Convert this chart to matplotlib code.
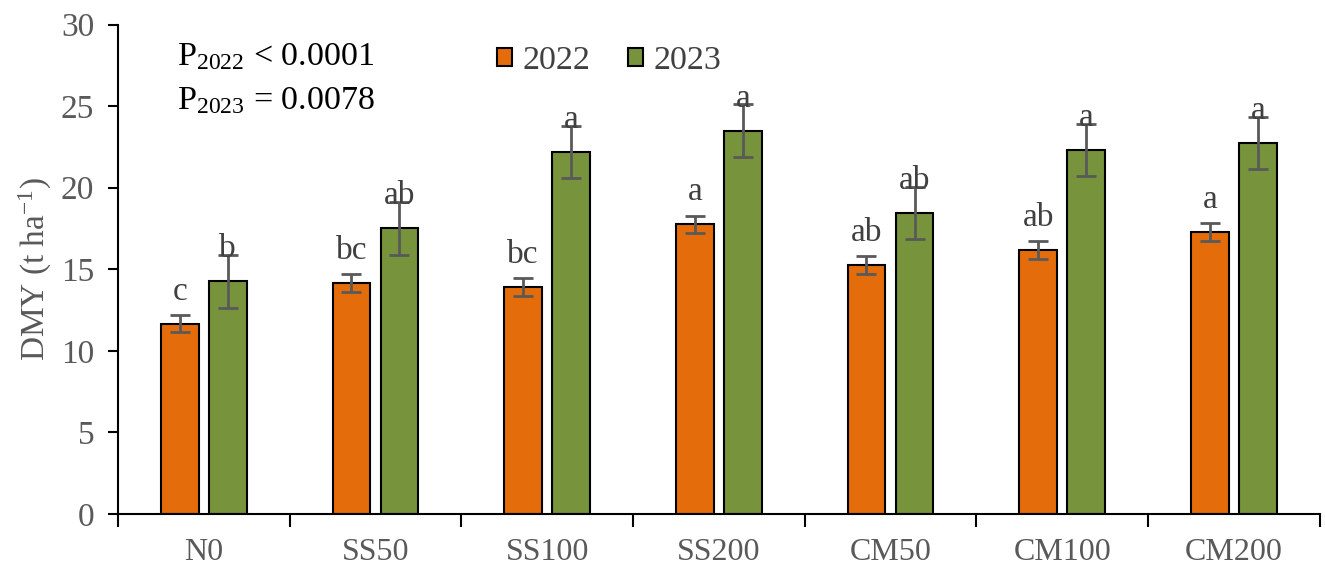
import numpy as np
import matplotlib
matplotlib.use("Agg")
import matplotlib.pyplot as plt
from matplotlib.ticker import FixedLocator

plt.rcParams['font.family'] = ['Liberation Serif', 'DejaVu Serif']
plt.rcParams['mathtext.fontset'] = 'custom'
plt.rcParams['mathtext.rm'] = 'Liberation Serif'
plt.rcParams['mathtext.it'] = 'Liberation Serif:italic'

# dry matter yield by treatment
treatments = ['N0', 'SS50', 'SS100', 'SS200', 'CM50', 'CM100', 'CM200']
dmy_2022 = [11.65, 14.15, 13.9, 17.75, 15.25, 16.2, 17.27]
err_2022 = [0.52, 0.55, 0.55, 0.53, 0.55, 0.55, 0.55]
dmy_2023 = [14.25, 17.5, 22.2, 23.5, 18.45, 22.3, 22.76]
err_2023 = [1.6, 1.6, 1.58, 1.63, 1.6, 1.6, 1.6]
letters_2022 = ['c', 'bc', 'bc', 'a', 'ab', 'ab', 'a']
letters_2023 = ['b', 'ab', 'a', 'a', 'ab', 'a', 'a']

c22 = '#E46C0A'
c23 = '#77933C'
grey = '#595959'

fig = plt.figure(figsize=(13.25, 5.71), dpi=100)
ax = fig.add_axes([0.089, 0.1, 0.907, 0.857])

x = np.arange(len(treatments))
w = 0.22
off = 0.14
ekw = dict(ecolor=grey, elinewidth=2, capsize=7, capthick=2)
ax.bar(x - off, dmy_2022, w, yerr=err_2022, color=c22, edgecolor='black',
       linewidth=1.5, error_kw=ekw, label='2022', zorder=2)
ax.bar(x + off, dmy_2023, w, yerr=err_2023, color=c23, edgecolor='black',
       linewidth=1.5, error_kw=ekw, label='2023', zorder=2)

for i in range(len(treatments)):
    ax.text(x[i] - off, dmy_2022[i] + 1.47, letters_2022[i], ha='center',
            va='baseline', fontsize=24, color='#404040', zorder=3)
    ax.text(x[i] + off, dmy_2023[i] + 1.47, letters_2023[i], ha='center',
            va='baseline', fontsize=24, color='#404040', zorder=3)

ax.set_xlim(-0.5, len(treatments) - 0.5)
ax.set_ylim(0, 30)
ax.set_yticks(np.arange(0, 31, 5))
ax.set_xticks(x)
ax.set_xticklabels(treatments)
ax.xaxis.set_minor_locator(FixedLocator(np.arange(-0.5, len(treatments), 1)))
ax.tick_params(axis='x', which='major', length=0, pad=17, labelsize=23, labelcolor=grey)
ax.tick_params(axis='x', which='minor', length=9, width=1.5, direction='out')
ax.tick_params(axis='y', length=7, width=1.5, direction='out', pad=10,
               labelsize=24, labelcolor=grey)

for s in ['top', 'right']:
    ax.spines[s].set_visible(False)
for s in ['left', 'bottom']:
    ax.spines[s].set_linewidth(1.5)

ax.set_ylabel('DMY (t ha$^{-1}$)', fontsize=24, color=grey, labelpad=5)

ax.text(0.049, 0.965, 'P$_{2022}$ < 0.0001', transform=ax.transAxes,
        fontsize=24.5, va='top', ha='left')
ax.text(0.049, 0.875, 'P$_{2023}$ = 0.0078', transform=ax.transAxes,
        fontsize=24.5, va='top', ha='left')

ax.legend(loc='upper left', bbox_to_anchor=(0.29, 1.02), ncol=2, frameon=False,
          fontsize=24.5, handlelength=0.45, handleheight=0.45, handletextpad=0.3,
          columnspacing=1.1, labelcolor='#404040')

fig.savefig('out.png', dpi=100)
